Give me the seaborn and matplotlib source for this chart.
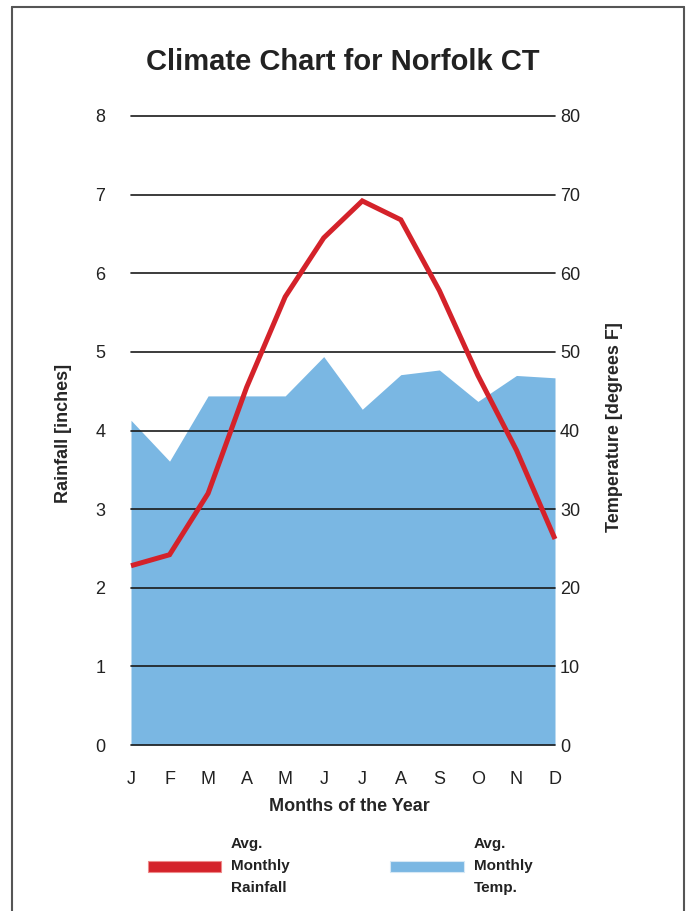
import matplotlib
matplotlib.use('Agg')
import matplotlib.pyplot as plt
import seaborn as sns
import numpy as np
from matplotlib.patches import Patch
from matplotlib.lines import Line2D

# chart data
months = ['J', 'F', 'M', 'A', 'M', 'J', 'J', 'A', 'S', 'O', 'N', 'D']
rainfall = [2.28, 2.42, 3.2, 4.55, 5.7, 6.45, 6.92, 6.68, 5.78, 4.7, 3.75, 2.62]
temperature = [41.3, 36.1, 44.4, 44.4, 44.4, 49.4, 42.7, 47.1, 47.7, 43.7, 47.0, 46.7]
left_ticks = list(range(0, 9))
right_ticks = list(range(0, 90, 10))

red = '#D4222A'
blue = '#7AB7E3'

sns.set_style('white')
plt.rcParams['font.family'] = ['Liberation Sans', 'DejaVu Sans']
plt.rcParams['text.color'] = '#222222'
plt.rcParams['xtick.color'] = '#222222'
plt.rcParams['ytick.color'] = '#222222'

fig = plt.figure(figsize=(6.88, 9.11), dpi=100)
ax = fig.add_axes([131 / 688, 1 - 745 / 911, 424 / 688, 629 / 911])
ax2 = ax.twinx()
ax.set_zorder(ax2.get_zorder() + 1)
ax.patch.set_visible(False)

x = np.arange(len(months))

# temperature area on the right axis
ax2.fill_between(x, temperature, color=blue, lw=0)
ax2.set_ylim(0, 80)
ax2.set_yticks(right_ticks)

# rainfall line on the left axis
sns.lineplot(x=x, y=rainfall, ax=ax, color=red, lw=3.6)
for ln in ax.lines:
    ln.set_solid_joinstyle('miter')
    ln.set_solid_capstyle('butt')
    ln.set_clip_on(False)
ax.set_ylim(0, 8)
ax.set_yticks(left_ticks)
ax.set_xlim(0, 11)
ax.set_xticks(x)
ax.set_xticklabels(months)

ax.yaxis.grid(True, color='#1a1a1a', lw=1.2)
ax.xaxis.grid(False)
for gl in ax.yaxis.get_gridlines():
    gl.set_clip_on(False)

for a in (ax, ax2):
    for s in a.spines.values():
        s.set_visible(False)

ax.tick_params(axis='y', length=0, pad=18.5, labelsize=13)
ax.tick_params(axis='x', length=0, pad=19, labelsize=13)
ax2.tick_params(axis='y', length=0, pad=3.5, labelsize=13)

ax.set_ylabel('Rainfall [inches]', fontsize=13, fontweight='bold')
ax.yaxis.label.set_va('center')
ax.yaxis.set_label_coords(-0.159, 0.495)
ax2.set_ylabel('Temperature [degrees F]', fontsize=13, fontweight='bold')
ax2.yaxis.label.set_va('center')
ax2.yaxis.set_label_coords(1.1415, 0.506)
ax.set_xlabel('Months of the Year', fontsize=13, fontweight='bold')
ax.xaxis.label.set_va('center')
ax.xaxis.set_label_coords(0.514, -0.098)

fig.text(0.499, 1 - 62 / 911, 'Climate Chart for Norfolk CT',
         ha='center', va='center', fontsize=21, fontweight='bold')

handles = [Patch(facecolor=red, edgecolor='#ee8a8a', lw=0.8),
           Patch(facecolor=blue, edgecolor='#d6e8f5', lw=0.8)]
leg = fig.legend(handles, ['Avg.\nMonthly\nRainfall', 'Avg.\nMonthly\nTemp.'],
                 loc='center', bbox_to_anchor=(340 / 688, 1 - 866 / 911),
                 ncol=2, frameon=False, prop={'weight': 'bold', 'size': 11},
                 handlelength=4.8, handleheight=0.7, handletextpad=0.65,
                 columnspacing=6.6)
for t in leg.get_texts():
    t.set_linespacing(1.72)

# page frame
frame_kw = dict(transform=fig.transFigure, color='#555555', lw=1.5)
fig.add_artist(Line2D([12 / 688, 12 / 688], [0, 1 - 7 / 911], **frame_kw))
fig.add_artist(Line2D([684 / 688, 684 / 688], [0, 1 - 7 / 911], **frame_kw))
fig.add_artist(Line2D([12 / 688, 684 / 688], [1 - 7 / 911, 1 - 7 / 911], **frame_kw))

fig.savefig('out.png', dpi=100)
